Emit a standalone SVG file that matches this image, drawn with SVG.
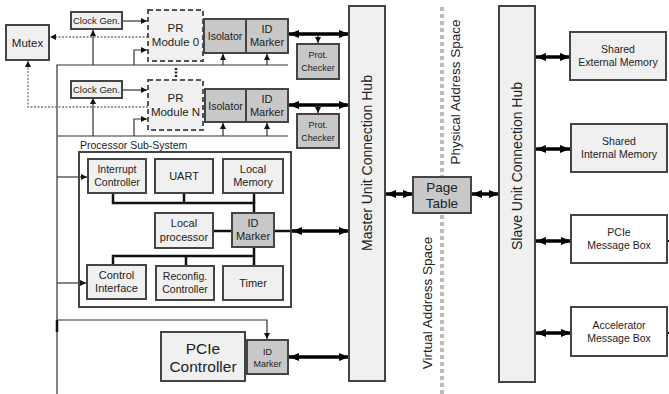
<svg xmlns="http://www.w3.org/2000/svg" width="669" height="394" viewBox="0 0 669 394">
<defs>
<style>
text{font-family:"Liberation Sans",Arial,sans-serif;fill:#222;text-anchor:middle}
.lt{fill:#f0f0f0;stroke:#444;stroke-width:2}
.dk{fill:#c8c8c8;stroke:#444;stroke-width:2}
.wh{fill:#fff;stroke:#444;stroke-width:2}
.pr{fill:#f0f0f0;stroke:#555;stroke-width:2;stroke-dasharray:5,3}
.bus{stroke:#111;stroke-width:2.5;fill:none}
.thin{stroke:#333;stroke-width:1.2;fill:none}
.bi{stroke:#000;stroke-width:3.5;fill:none;marker-start:url(#ah);marker-end:url(#ah)}
.dot{stroke:#777;stroke-width:1.3;stroke-dasharray:2,1.5;fill:none}
.as{stroke:#bbb;stroke-width:4;stroke-dasharray:4,3;fill:none}
</style>
<marker id="ah" viewBox="0 0 10 8" refX="10" refY="4" markerWidth="10" markerHeight="8" markerUnits="userSpaceOnUse" orient="auto-start-reverse"><path d="M0,0 L10,4 L0,8 z" fill="#000"/></marker>
<marker id="sa" viewBox="0 0 6 6" refX="6" refY="3" markerWidth="6" markerHeight="6" markerUnits="userSpaceOnUse" orient="auto"><path d="M0,0 L6,3 L0,6 z" fill="#111"/></marker>
</defs>

<g id="connectors">
<line class="as" x1="442" y1="7" x2="442" y2="176"/>
<line class="as" x1="442" y1="215" x2="442" y2="394"/>
<polyline class="thin" points="57,394 57,65 288,65"/>
<line class="thin" x1="57" y1="136" x2="288" y2="136"/>
<line x1="57" y1="320" x2="57" y2="332" stroke="#111" stroke-width="2.5"/>
<line class="thin" x1="93" y1="65" x2="93" y2="30" marker-end="url(#sa)"/>
<polyline class="thin" points="134,65 134,50 147,50" marker-end="url(#sa)"/>
<line class="thin" x1="223" y1="65" x2="223" y2="54" marker-end="url(#sa)"/>
<line class="thin" x1="267" y1="65" x2="267" y2="54" marker-end="url(#sa)"/>
<line class="thin" x1="122" y1="21" x2="147" y2="21" marker-end="url(#sa)"/>
<line class="thin" x1="93" y1="136" x2="93" y2="98" marker-end="url(#sa)"/>
<polyline class="thin" points="134,136 134,119 147,119" marker-end="url(#sa)"/>
<line class="thin" x1="223" y1="136" x2="223" y2="123" marker-end="url(#sa)"/>
<line class="thin" x1="267" y1="136" x2="267" y2="123" marker-end="url(#sa)"/>
<line class="thin" x1="122" y1="90" x2="147" y2="90" marker-end="url(#sa)"/>
<line class="thin" x1="57" y1="177" x2="87" y2="177" marker-end="url(#sa)"/>
<line class="thin" x1="57" y1="283" x2="86" y2="283" marker-end="url(#sa)"/>
<polyline class="thin" points="57,320 267,320 267,339" marker-end="url(#sa)"/>
<line class="dot" x1="148" y1="37" x2="50" y2="37" marker-end="url(#sa)"/>
<polyline class="dot" points="148,107 28,107 28,61" marker-end="url(#sa)"/>
<line x1="176" y1="68" x2="176" y2="77" stroke="#222" stroke-width="2.5" stroke-dasharray="2,1.5"/>
<line class="thin" x1="318" y1="34" x2="318" y2="43" marker-end="url(#sa)"/>
<line class="thin" x1="318" y1="104" x2="318" y2="113" marker-end="url(#sa)"/>
<polyline class="bus" points="113,193 113,203 254,203 254,213"/>
<line class="bus" x1="184" y1="193" x2="184" y2="203"/>
<line class="bus" x1="254" y1="193" x2="254" y2="203"/>
<line class="bus" x1="213" y1="231" x2="232" y2="231"/>
<polyline class="bus" points="113,264 113,256 254,256"/>
<line class="bus" x1="186" y1="256" x2="186" y2="266"/>
<line class="bus" x1="254" y1="247" x2="254" y2="266"/>
<line class="bus" x1="274" y1="231" x2="292" y2="231"/>
<line class="bi" x1="289" y1="34" x2="349" y2="34"/>
<line class="bi" x1="289" y1="105" x2="349" y2="105"/>
<line class="bi" x1="292" y1="231" x2="349" y2="231"/>
<line class="bi" x1="289" y1="357" x2="349" y2="357"/>
<line class="bi" x1="386" y1="194" x2="413" y2="194"/>
<line class="bi" x1="472" y1="194" x2="499" y2="194"/>
<line class="bi" x1="536" y1="57" x2="570" y2="57"/>
<line class="bi" x1="536" y1="149" x2="570" y2="149"/>
<line class="bi" x1="536" y1="241" x2="571" y2="241"/>
<line class="bi" x1="536" y1="333" x2="571" y2="333"/>
<line x1="669" y1="241" x2="670" y2="241" stroke="#000" stroke-width="2" marker-end="url(#ah)" transform="rotate(180 669 241)"/>
<line x1="669" y1="333" x2="670" y2="333" stroke="#000" stroke-width="2" marker-end="url(#ah)" transform="rotate(180 669 333)"/>
</g>

<g id="mutex"><rect class="lt" x="6" y="25" width="43" height="35"/><text x="27.5" y="46.5" font-size="11.5">Mutex</text></g>

<g id="clockgen0"><rect class="lt" x="71" y="12" width="51" height="17"/><text x="96.5" y="24" font-size="9.5">Clock Gen.</text></g>
<g id="prmodule0"><rect class="pr" x="148" y="10" width="55" height="51"/><text x="175.5" y="32" font-size="11.5">PR</text><text x="175.5" y="46" font-size="11.5">Module 0</text></g>
<g id="isolator0"><rect class="dk" x="204" y="19" width="42" height="34"/><text x="225" y="40" font-size="10.5">Isolator</text></g>
<g id="idmarker0"><rect class="dk" x="246" y="19" width="42" height="34"/><text x="267" y="33" font-size="11">ID</text><text x="267" y="46" font-size="11">Marker</text></g>
<g id="protchecker0"><rect class="dk" x="297" y="44" width="42" height="35"/><text x="318" y="58" font-size="9">Prot.</text><text x="318" y="71" font-size="9">Checker</text></g>

<g id="clockgenN"><rect class="lt" x="71" y="81" width="51" height="17"/><text x="96.5" y="93" font-size="9.5">Clock Gen.</text></g>
<g id="prmoduleN"><rect class="pr" x="148" y="80" width="55" height="50"/><text x="175.5" y="102" font-size="11.5">PR</text><text x="175.5" y="116" font-size="11.5">Module N</text></g>
<g id="isolatorN"><rect class="dk" x="205" y="89" width="41" height="33"/><text x="225.5" y="110" font-size="10.5">Isolator</text></g>
<g id="idmarkerN"><rect class="dk" x="246" y="89" width="42" height="33"/><text x="267" y="103" font-size="11">ID</text><text x="267" y="116" font-size="11">Marker</text></g>
<g id="protcheckerN"><rect class="dk" x="297" y="114" width="42" height="34"/><text x="318" y="128" font-size="9">Prot.</text><text x="318" y="141" font-size="9">Checker</text></g>

<g id="processor-subsystem">
<text x="80" y="149" font-size="10.5" style="text-anchor:start">Processor Sub-System</text>
<rect x="79" y="152" width="212" height="155" fill="none" stroke="#444" stroke-width="2"/>
</g>
<g id="interrupt"><rect class="lt" x="88" y="159" width="58" height="34"/><text x="117" y="173" font-size="10.5">Interrupt</text><text x="117" y="186" font-size="10.5">Controller</text></g>
<g id="uart"><rect class="lt" x="155" y="159" width="58" height="34"/><text x="184" y="180" font-size="11">UART</text></g>
<g id="localmemory"><rect class="lt" x="223" y="159" width="60" height="34"/><text x="253" y="173" font-size="11">Local</text><text x="253" y="186" font-size="11">Memory</text></g>
<g id="localprocessor"><rect class="lt" x="155" y="213" width="58" height="35"/><text x="184" y="227" font-size="11">Local</text><text x="184" y="241" font-size="11">processor</text></g>
<g id="idmarkerP"><rect class="dk" x="232" y="213" width="42" height="34"/><text x="253" y="227" font-size="11">ID</text><text x="253" y="240" font-size="11">Marker</text></g>
<g id="controlinterface"><rect class="lt" x="87" y="265" width="59" height="34"/><text x="116.5" y="279" font-size="11">Control</text><text x="116.5" y="292" font-size="11">Interface</text></g>
<g id="reconfig"><rect class="lt" x="156" y="266" width="58" height="34"/><text x="185" y="280" font-size="10.5">Reconfig.</text><text x="185" y="293" font-size="10.5">Controller</text></g>
<g id="timer"><rect class="lt" x="223" y="266" width="60" height="34"/><text x="253" y="287" font-size="11">Timer</text></g>

<g id="pciecontroller"><rect class="lt" x="161" y="332" width="84" height="49"/><text x="203" y="354" font-size="15.5">PCIe</text><text x="203" y="372" font-size="15.5">Controller</text></g>
<g id="idmarkerPCIe"><rect class="dk" x="247" y="340" width="41" height="34"/><text x="267.5" y="355" font-size="9">ID</text><text x="267.5" y="367" font-size="9">Marker</text></g>

<g id="masterhub"><rect class="lt" x="349" y="6" width="36" height="375"/><text transform="translate(372 163) rotate(-90)" font-size="14">Master Unit Connection Hub</text></g>
<g id="pagetable"><rect class="dk" x="413" y="177" width="58" height="36"/><text x="442" y="192" font-size="13.5">Page</text><text x="442" y="208" font-size="13.5">Table</text></g>
<g id="physical-label"><text transform="translate(460 92) rotate(-90)" font-size="13.5">Physical Address Space</text></g>
<g id="virtual-label"><text transform="translate(432 303) rotate(-90)" font-size="13.5">Virtual Address Space</text></g>
<g id="slavehub"><rect class="lt" x="499" y="6" width="36" height="376"/><text transform="translate(522 166) rotate(-90)" font-size="14">Slave Unit Connection Hub</text></g>

<g id="sharedexternal"><rect class="lt" x="570" y="32" width="96" height="48"/><text x="618" y="53" font-size="10.5">Shared</text><text x="618" y="66" font-size="10.5">External Memory</text></g>
<g id="sharedinternal"><rect class="lt" x="571" y="124" width="96" height="48"/><text x="619" y="145" font-size="10.5">Shared</text><text x="619" y="158" font-size="10.5">Internal Memory</text></g>
<g id="pciemsgbox"><rect class="wh" x="571" y="215" width="96" height="48"/><text x="619" y="236" font-size="10.5">PCIe</text><text x="619" y="249" font-size="10.5">Message Box</text></g>
<g id="accelmsgbox"><rect class="wh" x="571" y="307" width="96" height="49"/><text x="619" y="329" font-size="10.5">Accelerator</text><text x="619" y="342" font-size="10.5">Message Box</text></g>
</svg>
